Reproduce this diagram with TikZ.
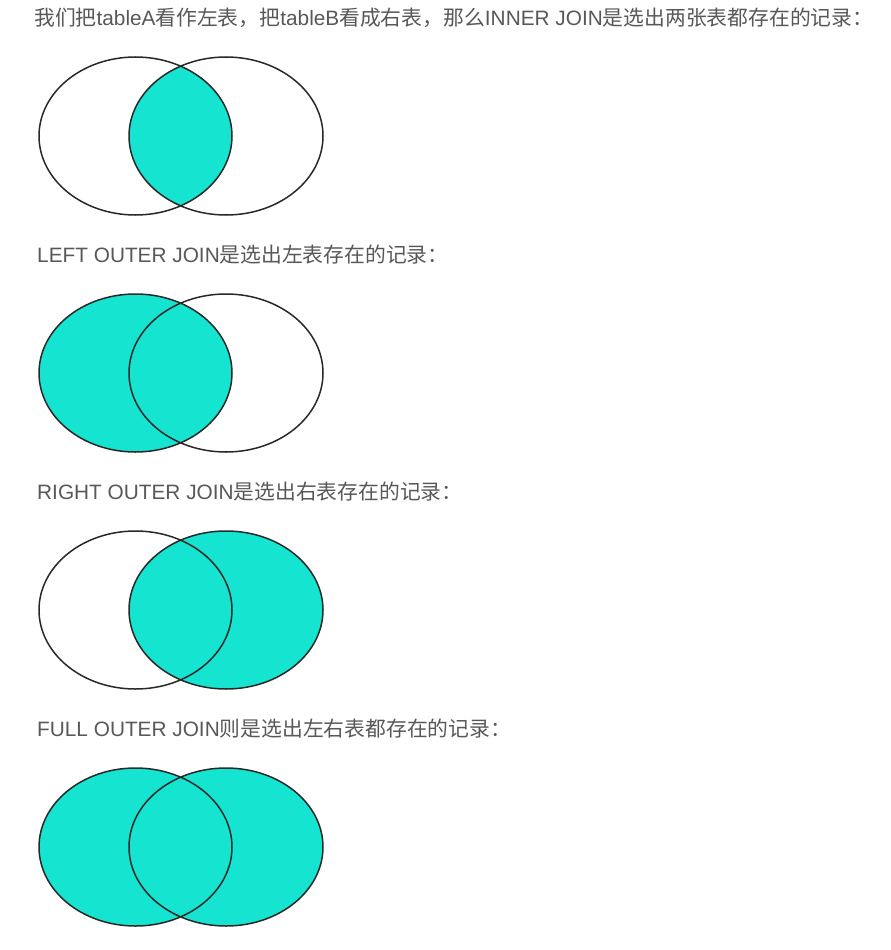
\documentclass[tikz,border=0pt]{standalone}
\usepackage{fontspec}
\setmainfont{Liberation Sans}
\newfontfamily\cjk{Noto Sans CJK SC}
\usetikzlibrary{positioning}
\definecolor{joinfill}{RGB}{21,228,208}
\definecolor{textgray}{RGB}{88,88,88}
\definecolor{rimgray}{RGB}{40,40,40}
\newcommand{\zh}[1]{{\cjk #1}}
% the two tables, relative to the centre line of a diagram
\def\tableA{(135.5,0) ellipse [x radius=96.5, y radius=79]}
\def\tableB{(226,0) ellipse [x radius=97, y radius=79]}

\begin{document}
\begin{tikzpicture}[
        x=1pt, y=-1pt,
        caption/.style={anchor=base west, inner sep=0pt, text=textgray, font=\fontsize{20.8}{25}\selectfont},
        rim/.style={draw=rimgray, line width=1.5pt}
    ]
    \useasboundingbox (0,0) rectangle (891,950);

    \node[caption] (innertext) at (34,26) {\zh{我们把}tableA\zh{看作左表，把}tableB\zh{看成右表，那么}INNER JOIN\zh{是选出两张表都存在的记录：}};
    \node[caption] (lefttext) at (37,262) {LEFT OUTER JOIN\zh{是选出左表存在的记录：}};
    \node[caption] (righttext) at (37,499) {RIGHT OUTER JOIN\zh{是选出右表存在的记录：}};
    \node[caption] (fulltext) at (37,736) {FULL OUTER JOIN\zh{则是选出左右表都存在的记录：}};

    % inner join
    \begin{scope}[yshift=-136pt]
        \begin{scope}
            \clip \tableA;
            \fill[joinfill] \tableB;
        \end{scope}
        \path[rim] \tableA \tableB;
    \end{scope}

    % left outer join
    \begin{scope}[yshift=-373pt]
        \fill[joinfill] \tableA;
        \path[rim] \tableA \tableB;
    \end{scope}

    % right outer join
    \begin{scope}[yshift=-610pt]
        \fill[joinfill] \tableB;
        \path[rim] \tableA \tableB;
    \end{scope}

    % full outer join
    \begin{scope}[yshift=-847pt]
        \fill[joinfill] \tableA \tableB;
        \path[rim] \tableA \tableB;
    \end{scope}
\end{tikzpicture}
\end{document}
